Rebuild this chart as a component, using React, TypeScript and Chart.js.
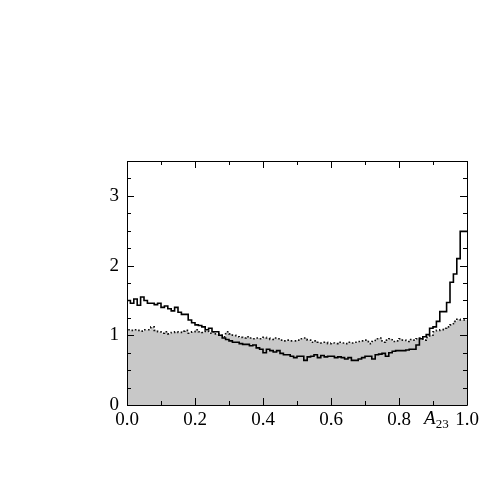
import React, { useEffect, useRef } from "react";
import { Chart, registerables } from "chart.js";

Chart.register(...registerables);

// 100 bins on [0, 1]
const solidValues = [
  1.50, 1.50, 1.46, 1.52, 1.43, 1.55, 1.50, 1.46, 1.46, 1.44,
  1.46, 1.40, 1.42, 1.38, 1.35, 1.40, 1.33, 1.30, 1.30, 1.22,
  1.18, 1.15, 1.14, 1.12, 1.08, 1.10, 1.05, 1.05, 1.00, 0.96,
  0.94, 0.92, 0.90, 0.90, 0.88, 0.87, 0.87, 0.85, 0.86, 0.82,
  0.80, 0.75, 0.80, 0.78, 0.76, 0.78, 0.74, 0.72, 0.72, 0.70,
  0.68, 0.70, 0.70, 0.64, 0.69, 0.70, 0.72, 0.68, 0.71, 0.69,
  0.70, 0.70, 0.68, 0.69, 0.68, 0.66, 0.68, 0.64, 0.64, 0.66,
  0.68, 0.70, 0.70, 0.66, 0.72, 0.73, 0.74, 0.70, 0.75, 0.77,
  0.78, 0.78, 0.78, 0.79, 0.80, 0.80, 0.86, 0.95, 0.98, 1.01,
  1.10, 1.12, 1.20, 1.34, 1.34, 1.47, 1.76, 1.88, 2.10, 2.49,
];

const grayValues = [
  1.12, 1.08, 1.07, 1.08, 1.07, 1.06, 1.08, 1.08, 1.12, 1.07,
  1.05, 1.03, 1.05, 1.02, 1.04, 1.05, 1.04, 1.06, 1.07, 1.03,
  1.05, 1.08, 1.05, 1.04, 1.06, 1.03, 1.05, 1.02, 1.00, 0.98,
  1.05, 1.02, 1.00, 0.98, 0.97, 0.96, 0.98, 0.96, 0.95, 0.96,
  0.95, 0.97, 0.96, 0.94, 0.96, 0.95, 0.93, 0.92, 0.93, 0.92,
  0.92, 0.93, 0.95, 0.96, 0.93, 0.90, 0.92, 0.90, 0.89, 0.90,
  0.88, 0.89, 0.88, 0.90, 0.89, 0.88, 0.90, 0.89, 0.90, 0.91,
  0.92, 0.93, 0.88, 0.91, 0.95, 0.96, 0.90, 0.93, 0.95, 0.91,
  0.92, 0.95, 0.93, 0.91, 0.94, 0.93, 0.95, 0.96, 0.93, 0.97,
  1.00, 1.05, 1.07, 1.08, 1.10, 1.12, 1.15, 1.20, 1.23, 1.22,
];

const xMajorTicks = [0, 0.2, 0.4, 0.6, 0.8, 1.0];
const xMinorTicks = [0.1, 0.3, 0.5, 0.7, 0.9];
const yMajorTicks = [0, 1, 2, 3];
const yMinorStep = 0.25;
const X_MIN = 0;
const X_MAX = 1;
const Y_MIN = 0;
const Y_MAX = 3.5;
const axisLabelMain = "A";
const axisLabelSub = "23";
const axisLabelPos = 0.91;

const FONT = "'Liberation Serif', 'Times New Roman', serif";

function toStepPoints(values: number[]) {
  const n = values.length;
  const pts = values.map((v, i) => ({ x: X_MIN + ((X_MAX - X_MIN) * i) / n, y: v }));
  pts.push({ x: X_MAX, y: values[n - 1] });
  return pts;
}

const framePlugin = {
  id: "frameTicks",
  afterDatasetsDraw(chart: any) {
    const { ctx, chartArea } = chart;
    const xs = chart.scales.x;
    const ys = chart.scales.y;
    const { left, right, top, bottom } = chartArea;
    ctx.save();
    ctx.strokeStyle = "#000";
    ctx.lineWidth = 1;
    ctx.beginPath();
    ctx.rect(Math.round(left) + 0.5, Math.round(top) + 0.5, Math.round(right - left), Math.round(bottom - top));
    ctx.stroke();
    const major = 7;
    const minor = 4;
    ctx.beginPath();
    const vx = (v: number, len: number) => {
      const px = Math.round(xs.getPixelForValue(v)) + 0.5;
      ctx.moveTo(px, bottom);
      ctx.lineTo(px, bottom - len);
      ctx.moveTo(px, top);
      ctx.lineTo(px, top + len);
    };
    xMajorTicks.forEach((v) => vx(v, major));
    xMinorTicks.forEach((v) => vx(v, minor));
    for (let v = Y_MIN; v <= Y_MAX + 1e-9; v += yMinorStep) {
      const isMajor = yMajorTicks.some((m) => Math.abs(m - v) < 1e-9);
      const len = isMajor ? major : minor;
      const py = Math.round(ys.getPixelForValue(v)) + 0.5;
      ctx.moveTo(left, py);
      ctx.lineTo(left + len, py);
      ctx.moveTo(right, py);
      ctx.lineTo(right - len, py);
    }
    ctx.stroke();
    ctx.restore();
  },
  afterDraw(chart: any) {
    const { ctx, chartArea } = chart;
    const xs = chart.scales.x;
    const px = xs.getPixelForValue(axisLabelPos);
    const baseY = chartArea.bottom + 19;
    ctx.save();
    ctx.fillStyle = "#000";
    ctx.textBaseline = "alphabetic";
    ctx.font = `italic 19px ${FONT}`;
    const wA = ctx.measureText(axisLabelMain).width;
    ctx.font = `13px ${FONT}`;
    const wS = ctx.measureText(axisLabelSub).width;
    const startX = px - (wA + wS) / 2;
    ctx.font = `italic 19px ${FONT}`;
    ctx.fillText(axisLabelMain, startX, baseY);
    ctx.font = `13px ${FONT}`;
    ctx.fillText(axisLabelSub, startX + wA, baseY + 4);
    ctx.restore();
  },
};

export default function App() {
  const ref = useRef<HTMLCanvasElement | null>(null);
  useEffect(() => {
    if (!ref.current) return;
    const chart = new Chart(ref.current, {
      type: "line",
      data: {
        datasets: [
          {
            label: "solid",
            data: toStepPoints(solidValues),
            stepped: "after",
            borderColor: "#000",
            borderWidth: 1.6,
            pointRadius: 0,
            fill: false,
            order: 1,
          },
          {
            label: "gray",
            data: toStepPoints(grayValues),
            stepped: "after",
            borderColor: "#111",
            borderWidth: 1.6,
            borderDash: [1.6, 2.4],
            backgroundColor: "#c8c8c8",
            pointRadius: 0,
            fill: "origin",
            order: 2,
          },
        ],
      },
      options: {
        responsive: false,
        animation: false,
        layout: { padding: { left: 0, right: 24, top: 161, bottom: 0 } },
        plugins: { legend: { display: false }, tooltip: { enabled: false } },
        scales: {
          x: {
            type: "linear",
            min: X_MIN,
            max: X_MAX,
            grid: { display: false, drawTicks: false },
            border: { display: false },
            ticks: {
              stepSize: 0.2,
              padding: 4,
              color: "#000",
              font: { family: FONT, size: 19 },
              maxRotation: 0,
              autoSkip: false,
              callback: (v: any) => Number(v).toFixed(1),
            },
            afterFit: (s: any) => {
              s.height = 89;
            },
          },
          y: {
            type: "linear",
            min: Y_MIN,
            max: Y_MAX,
            grid: { display: false, drawTicks: false },
            border: { display: false },
            ticks: {
              stepSize: 1,
              padding: 8,
              color: "#000",
              font: { family: FONT, size: 19 },
              callback: (v: any) => (Number.isInteger(v) ? String(v) : ""),
            },
            afterFit: (s: any) => {
              s.width = 127;
            },
          },
        },
      },
      plugins: [framePlugin],
    });
    return () => chart.destroy();
  }, []);
  return (
    <div style={{ position: "fixed", left: 0, top: 0, width: 491, height: 494, background: "#fff" }}>
      <canvas ref={ref} width={491} height={494} style={{ width: 491, height: 494 }} />
    </div>
  );
}
